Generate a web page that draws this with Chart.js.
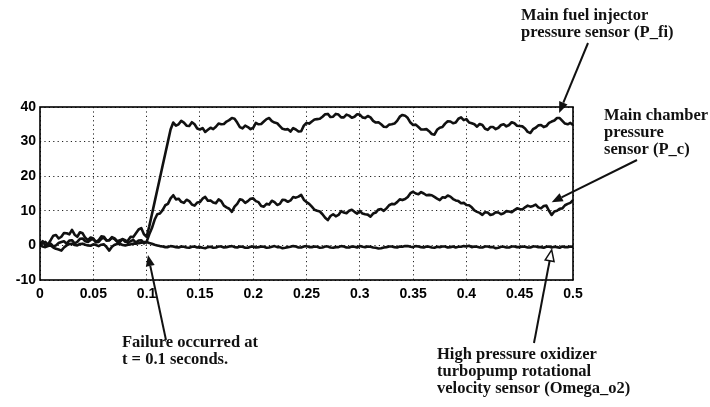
<!DOCTYPE html>
<html>
<head>
<meta charset="utf-8">
<script src="https://cdn.jsdelivr.net/npm/chart.js@4"></script>
<style>
html,body{margin:0;padding:0;background:#fff;}
#wrap{position:relative;width:710px;height:407px;}
</style>
</head>
<body>
<div id="wrap"><canvas id="c"></canvas></div>
<script>
// ---------- data ----------
const times = [
0,0.0025,0.005,0.0075,0.01,0.0125,0.015,0.0175,0.02,0.0225,0.025,0.0275,0.03,0.0325,0.035,0.0375,0.04,0.0425,0.045,0.0475,
0.05,0.0525,0.055,0.0575,0.06,0.0625,0.065,0.0675,0.07,0.0725,0.075,0.0775,0.08,0.0825,0.085,0.0875,0.09,0.0925,0.095,0.0975,
0.1,0.1025,0.105,0.1075,0.11,0.1125,0.115,0.1175,0.12,0.1225,0.125,0.1275,0.13,0.1325,0.135,0.1375,0.14,0.1425,0.145,0.1475,
0.15,0.1525,0.155,0.1575,0.16,0.1625,0.165,0.1675,0.17,0.1725,0.175,0.1775,0.18,0.1825,0.185,0.1875,0.19,0.1925,0.195,0.1975,
0.2,0.2025,0.205,0.2075,0.21,0.2125,0.215,0.2175,0.22,0.2225,0.225,0.2275,0.23,0.2325,0.235,0.2375,0.24,0.2425,0.245,0.2475,
0.25,0.2525,0.255,0.2575,0.26,0.2625,0.265,0.2675,0.27,0.2725,0.275,0.2775,0.28,0.2825,0.285,0.2875,0.29,0.2925,0.295,0.2975,
0.3,0.3025,0.305,0.3075,0.31,0.3125,0.315,0.3175,0.32,0.3225,0.325,0.3275,0.33,0.3325,0.335,0.3375,0.34,0.3425,0.345,0.3475,
0.35,0.3525,0.355,0.3575,0.36,0.3625,0.365,0.3675,0.37,0.3725,0.375,0.3775,0.38,0.3825,0.385,0.3875,0.39,0.3925,0.395,0.3975,
0.4,0.4025,0.405,0.4075,0.41,0.4125,0.415,0.4175,0.42,0.4225,0.425,0.4275,0.43,0.4325,0.435,0.4375,0.44,0.4425,0.445,0.4475,
0.45,0.4525,0.455,0.4575,0.46,0.4625,0.465,0.4675,0.47,0.4725,0.475,0.4775,0.48,0.4825,0.485,0.4875,0.49,0.4925,0.495,0.4975,
0.5];

const pFi = [
0.5,1.2,0,0.3,1.5,2.8,3,2,2.5,3.6,3.5,3.2,4.5,3.1,2.5,3.8,3.5,2.2,1.5,2.3,
2,1.0,1.5,2.6,2.5,1.4,1.5,2.4,2,1.2,1.5,1.8,1,1.4,2.5,2.4,3.5,4.6,5,3.2,
2.5,5.5,9,12.5,16,19.5,23,26.5,30,33.5,35.5,34.6,35,36,35.5,34.6,34.5,35.6,35,33.8,
33.5,33.9,32.8,33.4,34,33.6,34.3,35.2,35,35.1,35.8,36.2,36.8,36.6,35.5,34.2,33.8,34.6,34.2,33.6,
34,35.4,35,35.1,35.8,36.5,36.8,35.9,35.5,35.3,34.5,33.7,33.5,33.6,32.9,33.9,33.5,32.9,33,34.6,
35.4,35.2,35.8,36.4,36.5,36.6,37.2,37.9,38,37.1,37.2,38,37.8,37.0,37,37.8,37.5,36.9,37.2,37.9,
37.8,37.0,36.8,37.4,37,36.0,35.5,35.6,35,34.3,34.2,34.9,35,35.2,36,37.2,37.7,37.5,36.8,35.5,
34.8,34.9,34.2,33.5,33.5,33.6,33,32.2,32,33.4,34,34.2,35.2,35.9,35.8,35.3,35.5,36.6,37,36.2,
36.5,35.5,35.3,35.0,34.3,35.1,34.8,33.7,33.4,34.2,34.2,33.6,34,34.8,35,34.4,34.8,35.6,35.3,34.6,
34.5,34.4,33.8,32.8,32.5,33.6,34,34.7,34.8,34.2,34.5,35.4,35.8,36.1,36.8,36.8,36,35.2,35,35.4,
34.8];

const pC = [
0,0.6,1,0.2,0.5,-0.3,0,0.7,1,1.2,0.5,1.4,1.5,0.6,1,1.9,2,1.2,1,1.6,
1.8,0.9,1,1.9,2.2,1.4,1.5,2.2,1.8,1.0,1,1.8,1.5,0.7,1.2,1.6,0.8,1.4,1.5,0.6,
1,3.2,5,7.4,9,9.2,10.2,11.6,12,13.6,14.5,13.3,13.5,12.6,12.3,13.2,12.8,11.8,11.5,12.4,
12.5,13.5,14,12.9,13,12.4,12.2,13.3,12.8,11.5,11,10.6,9.7,11.2,12,13.3,13.1,12.3,12.8,13.5,
13.6,12.8,12.5,11.4,11.2,12.0,11.8,12.9,12.5,11.7,12,13.2,13.1,12.6,13,14.0,13.8,14.1,14.6,13.2,
12.5,12.0,11.2,10.3,10,9.8,9,8.0,7.3,8.5,9,8.4,8.8,9.9,9.5,9.3,10,10.3,9.7,9.2,
10,9.2,9,8.9,8.3,9.2,9.5,10.4,10.5,10.0,10.7,11.6,12,11.9,12.5,13.3,13.1,13.4,14,15.1,
15.5,15.0,14.8,15.4,15,14.5,14.6,14.5,14,13.5,13.1,13.9,13.8,14.4,14.1,13.4,13,12.8,12.2,12.3,
11.7,11.6,11,10.1,9.7,9.4,8.8,9.6,9.5,8.8,9,9.6,9.5,9.0,9.3,9.9,9.8,9.6,10.2,10.7,
10.5,10.4,11,11.5,11.2,11.4,11.8,11.0,10.7,11.4,11.5,10.0,8.8,9.8,10,10.6,10.7,11.6,12,12.3,
13.1];

const omega = [
0,-0.3,-0.5,-0.2,0,-0.6,-1,-1.2,-1.5,-0.6,0,0.4,0.5,0.1,0,0.4,0.5,0.2,0,-0.1,
0.3,0.1,-0.2,0.2,0.3,-0.5,-1.5,-0.4,0.2,0.4,0.5,0.1,0,0.2,0.3,0.5,0.5,0.6,0.8,1.0,
1,0.7,0.5,0.2,0,-0.2,-0.3,-0.5,-0.5,-0.2,-0.3,-0.5,-0.6,-0.3,-0.4,-0.6,-0.7,-0.4,-0.3,-0.6,
-0.5,-0.7,-0.8,-0.5,-0.4,-0.7,-0.6,-0.3,-0.3,-0.6,-0.5,-0.3,-0.2,-0.5,-0.6,-0.3,-0.4,-0.7,-0.7,-0.4,
-0.3,-0.6,-0.5,-0.3,-0.4,-0.7,-0.6,-0.4,-0.2,-0.5,-0.5,-0.8,-0.7,-0.5,-0.4,-0.2,-0.3,-0.6,-0.6,-0.3,
-0.2,-0.5,-0.5,-0.3,-0.4,-0.7,-0.6,-0.3,-0.3,-0.6,-0.7,-0.5,-0.5,-0.2,-0.3,-0.6,-0.6,-0.3,-0.4,-0.6,
-0.2,-0.4,-0.5,-0.3,-0.4,-0.6,-0.7,-0.9,-0.8,-0.6,-0.5,-0.3,-0.3,-0.5,-0.6,-0.3,-0.4,-0.2,-0.2,-0.4,
-0.5,-0.2,-0.3,-0.5,-0.6,-0.3,-0.4,-0.6,-0.7,-0.4,-0.5,-0.3,-0.3,-0.6,-0.5,-0.3,-0.6,-0.4,-0.4,-0.2,
-0.3,-0.1,-0.5,-0.3,-0.4,-0.6,-0.6,-0.3,-0.3,-0.5,-0.5,-0.8,-0.7,-0.4,-0.4,-0.6,-0.6,-0.3,-0.3,-0.5,
-0.5,-0.3,-0.4,-0.6,-0.6,-0.3,-0.3,-0.5,-0.5,-0.7,-0.4,-0.3,-0.6,-0.4,-0.5,-0.7,-0.3,-0.5,-0.5,-0.3,
-0.4];

const xTickValues = [0,0.05,0.1,0.15,0.2,0.25,0.3,0.35,0.4,0.45,0.5];
const xTickLabels = ['0','0.05','0.1','0.15','0.2','0.25','0.3','0.35','0.4','0.45','0.5'];
const yTickValues = [-10,0,10,20,30,40];
const yTickLabels = ['-10','0','10','20','30','40'];

// annotation texts and the data points their arrows point at
const noteLines = [
  ['Main fuel injector','pressure sensor (P_fi)'],
  ['Main chamber','pressure','sensor (P_c)'],
  ['High pressure oxidizer','turbopump rotational','velocity sensor (Omega_o2)'],
  ['Failure occurred at','t = 0.1 seconds.']
];
const arrowTipX = [0.487, 0.48, 0.48, 0.1013];
const arrowTipY = [38.3, 12.5, -1.3, -2.8];

// ---------- layout / style (not data) ----------
const notePos = [{x:521,y:20},{x:604,y:120},{x:437,y:359},{x:122,y:347}];
const noteLH = 17;
const arrowTail = [{x:588,y:43},{x:637,y:160},{x:534,y:343},{x:166,y:340}];
const arrowHollow = [false,false,true,false];

function pts(vals){ return times.map((t,i)=>({x:t,y:vals[i]})); }

const lineStyle = {borderColor:'#111',borderWidth:2.6,pointRadius:0,tension:0,fill:false,borderJoinStyle:'round'};

const decor = {
  id:'decor',
  afterDatasetsDraw(chart){
    const ctx = chart.ctx, a = chart.chartArea;
    ctx.save();
    ctx.strokeStyle='#000'; ctx.lineWidth=1.6; ctx.setLineDash([]);
    ctx.strokeRect(a.left, a.top, a.right-a.left, a.bottom-a.top);
    ctx.restore();
  },
  afterDraw(chart){
    const ctx = chart.ctx, xs = chart.scales.x, ys = chart.scales.y;
    ctx.save();
    ctx.fillStyle='#111';
    ctx.font='bold 16.5px "Liberation Serif"';
    ctx.textBaseline='alphabetic'; ctx.textAlign='left';
    noteLines.forEach((lines,k)=>{
      lines.forEach((s,j)=>ctx.fillText(s, notePos[k].x, notePos[k].y + j*noteLH));
    });
    arrowTipX.forEach((tx,k)=>{
      const px = xs.getPixelForValue(tx), py = ys.getPixelForValue(arrowTipY[k]);
      const t = arrowTail[k];
      const ang = Math.atan2(py - t.y, px - t.x);
      const hl = 11, hw = 4.5;
      const bx = px - hl*Math.cos(ang), by = py - hl*Math.sin(ang);
      ctx.strokeStyle='#111'; ctx.lineWidth=2; ctx.setLineDash([]);
      ctx.beginPath(); ctx.moveTo(t.x,t.y); ctx.lineTo(bx,by); ctx.stroke();
      ctx.beginPath();
      ctx.moveTo(px,py);
      ctx.lineTo(bx + hw*Math.sin(ang), by - hw*Math.cos(ang));
      ctx.lineTo(bx - hw*Math.sin(ang), by + hw*Math.cos(ang));
      ctx.closePath();
      if(arrowHollow[k]){ ctx.fillStyle='#fff'; ctx.fill(); ctx.lineWidth=1.5; ctx.stroke(); ctx.fillStyle='#111'; }
      else { ctx.fillStyle='#111'; ctx.fill(); }
    });
    ctx.restore();
  }
};

new Chart(document.getElementById('c'), {
  type:'line',
  data:{datasets:[
    Object.assign({label:'P_fi', data:pts(pFi)}, lineStyle),
    Object.assign({label:'P_c', data:pts(pC)}, lineStyle),
    Object.assign({label:'Omega_o2', data:pts(omega)}, lineStyle)
  ]},
  options:{
    responsive:true, maintainAspectRatio:false, animation:false,
    layout:{padding:{left:0,top:107,right:137,bottom:97}},
    plugins:{legend:{display:false},tooltip:{enabled:false}},
    scales:{
      x:{type:'linear',min:0,max:0.5,
        afterBuildTicks(s){ s.ticks = xTickValues.map(v=>({value:v})); },
        afterFit(s){ s.height = 30; },
        grid:{color:'#222',lineWidth:1,drawTicks:false},
        border:{display:false,dash:[1.2,3.2]},
        ticks:{padding:6,color:'#000',maxRotation:0,autoSkip:false,
          font:{family:'"Liberation Sans"',size:14,weight:'bold'},
          callback(v,i){ return xTickLabels[i]; }}
      },
      y:{min:-10,max:40,
        afterBuildTicks(s){ s.ticks = yTickValues.map(v=>({value:v})); },
        afterFit(s){ s.width = 40; },
        grid:{color:'#222',lineWidth:1,drawTicks:false},
        border:{display:false,dash:[1.2,3.2]},
        ticks:{padding:4,color:'#000',autoSkip:false,
          font:{family:'"Liberation Sans"',size:14,weight:'bold'},
          callback(v,i){ return yTickLabels[i]; }}
      }
    }
  },
  plugins:[decor]
});
</script>
</body>
</html>
